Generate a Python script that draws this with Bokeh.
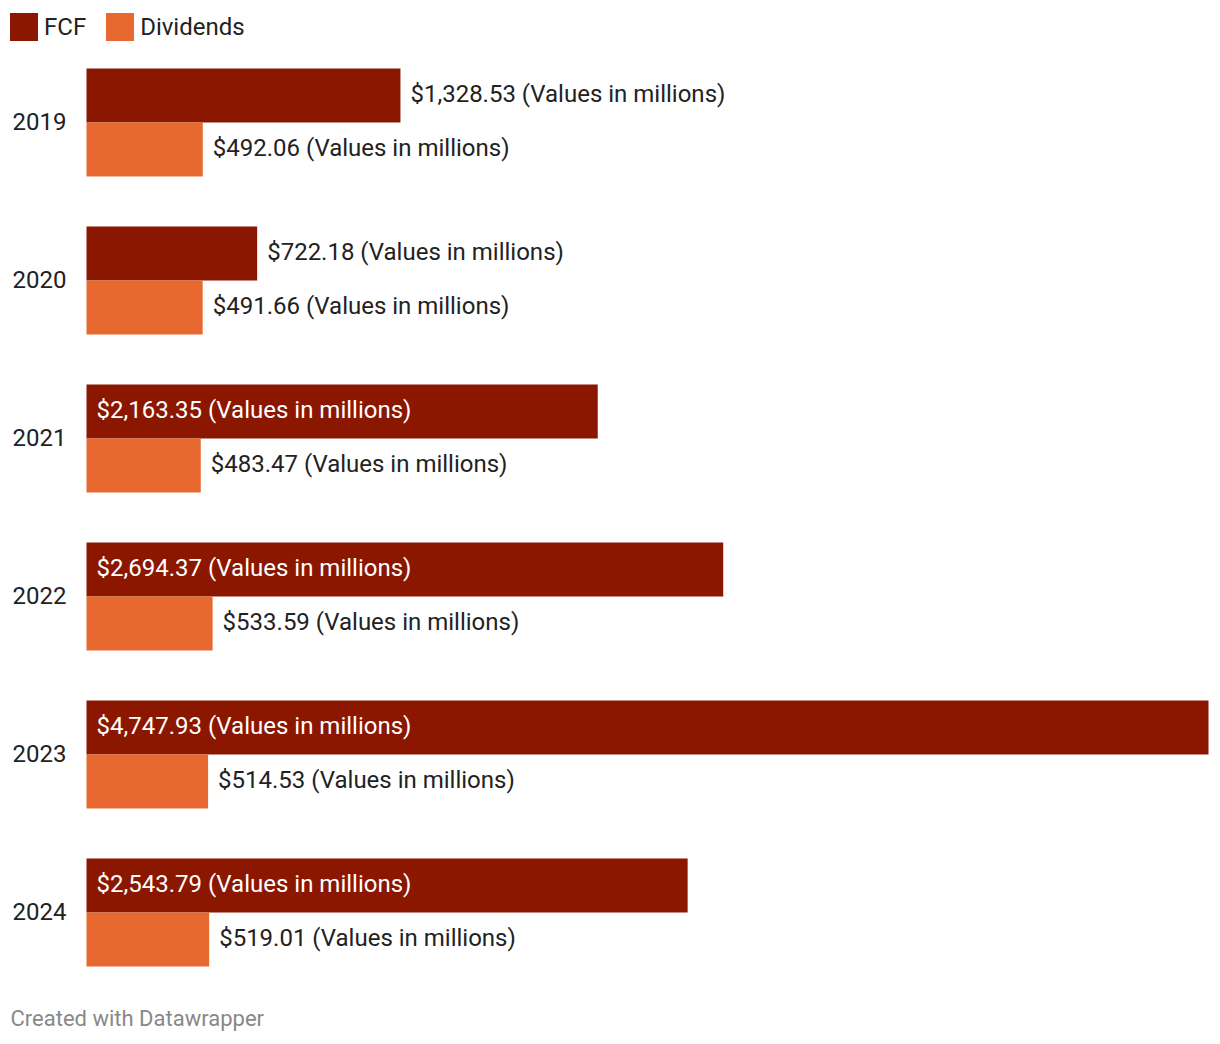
from bokeh.plotting import figure
from bokeh.models import Range1d, ColumnDataSource, Legend, LegendItem, Label
from bokeh.core.properties import value
from bokeh.embed import file_html
from bokeh.resources import INLINE

years = ["2019", "2020", "2021", "2022", "2023", "2024"]
fcf = [1328.53, 722.18, 2163.35, 2694.37, 4747.93, 2543.79]
dividends = [492.06, 491.66, 483.47, 533.59, 514.53, 519.01]
series_names = ["FCF", "Dividends"]
colors = ["#8b1700", "#e8692f"]

W, H = 1216, 1040
left_px = 86          # frame px where value 0 sits
bar_px = 1122         # px span of max value
k = max(fcf) / bar_px
group_px = 158
first_center_px = 122

FONT = value("Roboto")

p = figure(width=W, height=H, output_backend="svg", toolbar_location=None,
           min_border=0, outline_line_color=None)
p.x_range = Range1d(-left_px * k, (W - left_px) * k)
p.y_range = Range1d((H - first_center_px) / group_px, -first_center_px / group_px)
p.axis.visible = False
p.grid.visible = False
p.background_fill_color = "white"
p.border_fill_color = "white"

idx = list(range(len(years)))
half = 54 / group_px
fcf_y = [i - half / 2 for i in idx]
div_y = [i + half / 2 for i in idx]

src_f = ColumnDataSource(dict(y=fcf_y, v=fcf,
                              lab=["$" + f"{v:,.2f}" + " (Values in millions)" for v in fcf]))
src_d = ColumnDataSource(dict(y=div_y, v=dividends,
                              lab=["$" + f"{v:,.2f}" + " (Values in millions)" for v in dividends]))

rf = p.hbar(y="y", left=0, right="v", height=half, source=src_f,
            fill_color=colors[0], line_color=None)
rd = p.hbar(y="y", left=0, right="v", height=half, source=src_d,
            fill_color=colors[1], line_color=None)

# labels: inside (white) for long FCF bars, outside otherwise
thr = 1500
in_src = ColumnDataSource(dict(x=[0 for v in fcf if v > thr],
                               y=[y for y, v in zip(fcf_y, fcf) if v > thr],
                               lab=[l for l, v in zip(src_f.data["lab"], fcf) if v > thr]))
out_src = ColumnDataSource(dict(
    x=[v for v in fcf if v <= thr] + dividends,
    y=[y for y, v in zip(fcf_y, fcf) if v <= thr] + div_y,
    lab=[l for l, v in zip(src_f.data["lab"], fcf) if v <= thr] + src_d.data["lab"]))

p.text(x="x", y="y", text="lab", source=in_src, x_offset=10, y_offset=-2, text_align="left",
       text_baseline="middle", text_color="white", text_font=FONT, text_font_size="24px")
p.text(x="x", y="y", text="lab", source=out_src, x_offset=10, y_offset=-2, text_align="left",
       text_baseline="middle", text_color="#222222", text_font=FONT, text_font_size="24px")

ysrc = ColumnDataSource(dict(x=[0] * len(years), y=idx, t=years))
p.text(x="x", y="y", text="t", source=ysrc, x_offset=-20, y_offset=-1, text_align="right",
       text_baseline="middle", text_color="#222222", text_font=FONT, text_font_size="24px")

legend = Legend(items=[LegendItem(label=series_names[0], renderers=[rf]),
                       LegendItem(label=series_names[1], renderers=[rd])],
                orientation="horizontal", location=(6, H - 44),
                glyph_width=35, glyph_height=35, label_standoff=3, spacing=16,
                padding=0, margin=0, border_line_color=None, background_fill_alpha=0,
                label_text_font="Roboto", label_text_font_size="24px",
                label_text_color="#222222", label_height=35)
p.add_layout(legend)

p.add_layout(Label(x=10, y=H - 1030, x_units="screen", y_units="screen",
                   text="Created with Datawrapper", text_font="Roboto",
                   text_font_size="22px", text_color="#888888"))

open("out.html", "w").write(file_html(p, INLINE))
